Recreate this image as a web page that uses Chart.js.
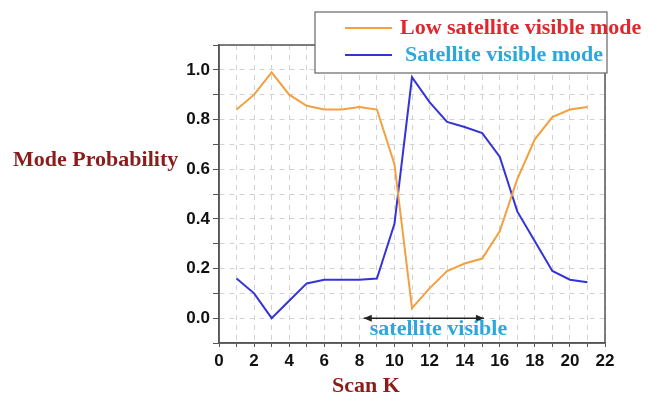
<!DOCTYPE html>
<html>
<head>
<meta charset="utf-8">
<script src="https://cdn.jsdelivr.net/npm/chart.js@4/dist/chart.umd.min.js"></script>
<style>
  html, body { margin: 0; padding: 0; background: #fff; }
  #wrap { position: relative; width: 658px; height: 401px; }
</style>
</head>
<body>
<div id="wrap"><canvas id="modeChart"></canvas></div>
<script>
(function () {
    'use strict';

    // ── Data ──────────────────────────────────────────────────────────────────
    const scanK      = [1, 2, 3, 4, 5, 6, 7, 8, 9, 10, 11, 12, 13, 14, 15, 16, 17, 18, 19, 20, 21];
    const lowVisible = [0.84, 0.90, 0.99, 0.90, 0.855, 0.84, 0.84, 0.85, 0.84, 0.62, 0.04,
                        0.12, 0.19, 0.22, 0.24, 0.35, 0.56, 0.72, 0.81, 0.84, 0.85];
    const satVisible = [0.16, 0.10, 0.00, 0.07, 0.14, 0.155, 0.155, 0.155, 0.16, 0.38, 0.97,
                        0.87, 0.79, 0.77, 0.745, 0.65, 0.43, 0.31, 0.19, 0.155, 0.145];
    const seriesNames = ['Low satellite visible mode', 'Satellite visible mode'];
    const visibleSpan = [8.25, 15.1];   // arrow, in Scan K units
    const visibleText = 'satellite visible';

    // ── Theme tokens ──────────────────────────────────────────────────────────
    const ORANGE   = '#f2a040';
    const BLUE     = '#3434d6';
    const DARKRED  = '#8b1c1c';
    const RED      = '#e0262e';
    const SKY      = '#2aa8de';
    const AXIS     = '#555555';
    const GRID     = '#d2d2d2';
    const SERIF    = "'Liberation Serif', 'Times New Roman', serif";
    const SANS     = "'Liberation Sans', Arial, sans-serif";
    const TITLE_FONT = 'bold 22px ' + SERIF;

    const toXY = ys => scanK.map((x, i) => ({ x, y: ys[i] }));

    // ── Extra drawing: frame, titles, legend box, arrow annotation ───────────
    const decor = {
        id: 'decor',
        afterDraw(chart) {
            const ctx = chart.ctx;
            const a = chart.chartArea;
            const xs = chart.scales.x, ys = chart.scales.y;

            ctx.save();
            // plot frame
            ctx.strokeStyle = AXIS;
            ctx.lineWidth = 1.5;
            ctx.strokeRect(a.left, a.top, a.right - a.left, a.bottom - a.top);

            // axis titles
            ctx.font = TITLE_FONT;
            ctx.fillStyle = DARKRED;
            ctx.textBaseline = 'middle';
            ctx.textAlign = 'left';
            ctx.fillText('Mode Probability', 13, 160);
            ctx.textAlign = 'center';
            ctx.fillText('Scan K', 366, 386);

            // arrow + text
            const y0 = ys.getPixelForValue(0);
            const x1 = xs.getPixelForValue(visibleSpan[0]);
            const x2 = xs.getPixelForValue(visibleSpan[1]);
            ctx.strokeStyle = '#222';
            ctx.fillStyle = '#222';
            ctx.lineWidth = 1.5;
            ctx.beginPath();
            ctx.moveTo(x1, y0); ctx.lineTo(x2, y0);
            ctx.stroke();
            [[x1, 1], [x2, -1]].forEach(([px, dir]) => {
                ctx.beginPath();
                ctx.moveTo(px, y0);
                ctx.lineTo(px + dir * 8, y0 - 3.5);
                ctx.lineTo(px + dir * 8, y0 + 3.5);
                ctx.closePath();
                ctx.fill();
            });
            ctx.font = TITLE_FONT;
            ctx.fillStyle = SKY;
            ctx.textAlign = 'left';
            ctx.fillText(visibleText, x1 + 6, y0 + 11);

            // legend box (overlaps the plot, text spills past the box)
            ctx.fillStyle = '#fff';
            ctx.fillRect(315, 12, 292, 61);
            ctx.strokeStyle = '#666';
            ctx.lineWidth = 1.2;
            ctx.strokeRect(315, 12, 292, 61);
            const textColors = [RED, SKY];
            chart.data.datasets.forEach((ds, i) => {
                const cy = 28 + i * 27;
                ctx.strokeStyle = ds.borderColor;
                ctx.lineWidth = 2;
                ctx.beginPath();
                ctx.moveTo(345, cy); ctx.lineTo(392, cy);
                ctx.stroke();
                ctx.fillStyle = textColors[i];
                ctx.font = TITLE_FONT;
                ctx.textAlign = 'left';
                ctx.fillText(ds.label, 400 + i * 5, cy);
            });
            ctx.restore();
        }
    };

    new Chart(document.getElementById('modeChart'), {
        type: 'line',
        data: {
            datasets: [{
                label:       seriesNames[0],
                data:        toXY(lowVisible),
                borderColor: ORANGE,
                borderWidth: 2,
                pointRadius: 0,
                tension:     0
            }, {
                label:       seriesNames[1],
                data:        toXY(satVisible),
                borderColor: BLUE,
                borderWidth: 2,
                pointRadius: 0,
                tension:     0
            }]
        },
        options: {
            responsive: true,
            maintainAspectRatio: false,
            animation: false,
            layout: { padding: { top: 45, right: 53, left: 0, bottom: 0 } },
            plugins: {
                legend:  { display: false },
                tooltip: { enabled: false }
            },
            scales: {
                x: {
                    type: 'linear',
                    min: 0, max: 22,
                    afterFit: s => { s.height = 58; },
                    grid:   { color: GRID, tickColor: AXIS, tickLength: 4 },
                    border: { color: AXIS, width: 1.5, dash: [5, 5] },
                    ticks: {
                        stepSize: 1,
                        autoSkip: false,
                        maxRotation: 0,
                        padding: 4,
                        color: '#111',
                        font: { family: SANS, size: 17, weight: 'bold' },
                        callback: v => (v % 2 === 0 ? String(v) : '')
                    }
                },
                y: {
                    min: -0.1, max: 1.1,
                    afterFit: s => { s.width = 219; },
                    grid:   { color: GRID, tickColor: AXIS, tickLength: 6 },
                    border: { color: AXIS, width: 1.5, dash: [5, 5] },
                    ticks: {
                        stepSize: 0.1,
                        autoSkip: false,
                        padding: 3,
                        color: '#111',
                        font: { family: SANS, size: 17, weight: 'bold' },
                        callback: v => {
                            const k = Math.round(v * 10);
                            return (k >= 0 && k <= 10 && k % 2 === 0) ? (k / 10).toFixed(1) : '';
                        }
                    }
                }
            }
        },
        plugins: [decor]
    });
})();
</script>
</body>
</html>
